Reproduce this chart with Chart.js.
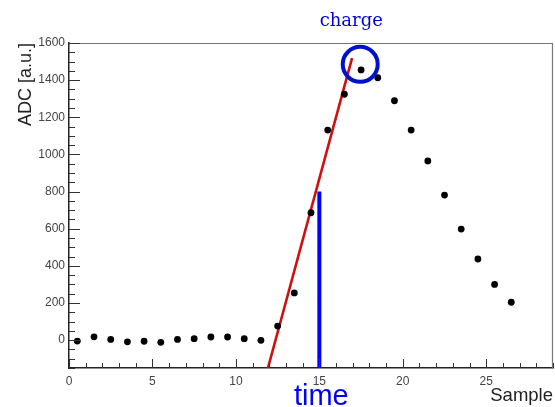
<!DOCTYPE html>
<html>
<head>
<meta charset="utf-8">
<script src="https://cdn.jsdelivr.net/npm/chart.js@4/dist/chart.umd.min.js"></script>
<style>
  html, body { margin: 0; padding: 0; background: #fff; }
  #wrap { width: 555px; height: 407px; position: relative; }
</style>
</head>
<body>
<div id="wrap"><canvas id="c" width="555" height="407"></canvas></div>
<script>
// ADC samples of one pulse (bin centres 0.5, 1.5, ...)
const sampleX = [0.5, 1.5, 2.5, 3.5, 4.5, 5.5, 6.5, 7.5, 8.5, 9.5, 10.5, 11.5, 12.5, 13.5,
                 14.5, 15.5, 16.5, 17.5, 18.5, 19.5, 20.5, 21.5, 22.5, 23.5, 24.5, 25.5, 26.5];
const adcValues = [-5, 18, 4, -9, -6, -12, 4, 8, 17, 17, 8, -1, 76, 254,
                   686, 1131, 1324, 1455, 1413, 1289, 1131, 965, 781, 598, 437, 300, 204];

// linear fit of the rising edge
const fitX = [11.92, 16.96];
const fitY = [-150, 1519];

// time marker and charge marker
const timeX = [15, 15];
const timeY = [-150, 800];
const chargeX = [17.45];
const chargeY = [1485];

// axis ranges and labelled ticks
const xRange = [0, 29];
const yRange = [-150, 1600];
const xTickLabels = [0, 5, 10, 15, 20, 25];
const yTickLabels = [0, 200, 400, 600, 800, 1000, 1200, 1400, 1600];

const toPoints = (xs, ys) => xs.map((x, i) => ({ x: x, y: ys[i] }));

// ROOT-style frame with ticks pointing into the plot, plus the annotations
const framePlugin = {
  id: 'frameTicks',
  afterDraw(chart) {
    const { ctx, chartArea: a, scales } = chart;
    ctx.save();
    ctx.strokeStyle = '#777';
    ctx.lineWidth = 1.2;
    ctx.beginPath();
    ctx.moveTo(a.left, a.top + 0.5);
    ctx.lineTo(a.right - 0.5, a.top + 0.5);
    ctx.lineTo(a.right - 0.5, a.bottom);
    ctx.stroke();

    ctx.strokeStyle = '#333';
    ctx.lineWidth = 1;
    ctx.beginPath();
    scales.y.ticks.forEach(t => {
      const py = Math.round(scales.y.getPixelForValue(t.value)) + 0.5;
      const len = yTickLabels.includes(t.value) ? 11 : 6;
      ctx.moveTo(a.left, py);
      ctx.lineTo(a.left + len, py);
    });
    scales.x.ticks.forEach(t => {
      const px = Math.round(scales.x.getPixelForValue(t.value)) + 0.5;
      const len = xTickLabels.includes(t.value) ? 9 : 5;
      ctx.moveTo(px, a.bottom);
      ctx.lineTo(px, a.bottom - len);
    });
    ctx.stroke();

    // annotation texts
    ctx.fillStyle = '#0000dd';
    ctx.textAlign = 'center';
    ctx.textBaseline = 'alphabetic';
    ctx.font = '18px "DejaVu Serif"';
    ctx.fillText('charge', scales.x.getPixelForValue(chargeX[0]) - 9, 26);
    ctx.fillStyle = '#0000ff';
    ctx.font = '29px "Liberation Sans"';
    ctx.fillText('time', scales.x.getPixelForValue(timeX[0]) + 2, 405);
    ctx.restore();
  }
};

new Chart(document.getElementById('c'), {
  type: 'scatter',
  data: {
    datasets: [
      {
        label: 'fit',
        type: 'line',
        data: toPoints(fitX, fitY),
        borderColor: '#cc1111',
        borderWidth: 2.6,
        pointRadius: 0,
        showLine: true,
        fill: false,
        order: 3
      },
      {
        label: 'time',
        type: 'line',
        data: toPoints(timeX, timeY),
        borderColor: '#0000ff',
        borderWidth: 4,
        borderCapStyle: 'butt',
        pointRadius: 0,
        showLine: true,
        fill: false,
        order: 2
      },
      {
        label: 'ADC',
        data: toPoints(sampleX, adcValues),
        pointRadius: 3.4,
        pointBackgroundColor: '#000',
        pointBorderColor: '#000',
        pointBorderWidth: 0,
        order: 1
      },
      {
        label: 'charge',
        data: toPoints(chargeX, chargeY),
        pointRadius: 17.5,
        pointBackgroundColor: 'rgba(0,0,0,0)',
        pointBorderColor: '#0010cc',
        pointBorderWidth: 4,
        order: 0
      }
    ]
  },
  options: {
    responsive: false,
    animation: false,
    devicePixelRatio: 1,
    layout: { autoPadding: false, padding: { left: 0, right: 2, top: 43, bottom: 0 } },
    plugins: {
      legend: { display: false },
      tooltip: { enabled: false }
    },
    scales: {
      x: {
        type: 'linear',
        min: xRange[0],
        max: xRange[1],
        grid: { display: false, drawTicks: false },
        border: { display: true, color: '#222', width: 1.5 },
        ticks: {
          stepSize: 1,
          autoSkip: false,
          maxRotation: 0,
          padding: 6,
          color: '#444',
          font: { family: '"Liberation Sans"', size: 12 },
          callback: v => xTickLabels.includes(v) ? String(v) : ''
        },
        title: {
          display: true,
          text: 'Sample',
          align: 'end',
          color: '#222',
          padding: { top: 0, bottom: 0 },
          font: { family: '"Liberation Sans"', size: 18.5 }
        },
        afterFit: s => {
          s.height = 39;
          s.paddingLeft = 0;
          s.paddingRight = 0;
        }
      },
      y: {
        type: 'linear',
        min: yRange[0],
        max: yRange[1],
        grid: { display: false, drawTicks: false },
        border: { display: true, color: '#222', width: 1.5 },
        ticks: {
          stepSize: 50,
          autoSkip: false,
          padding: 4,
          color: '#444',
          font: { family: '"Liberation Sans"', size: 12 },
          callback: v => yTickLabels.includes(v) ? String(v) : ''
        },
        title: {
          display: true,
          text: 'ADC [a.u.]',
          align: 'end',
          color: '#222',
          padding: { top: 15, bottom: 0 },
          font: { family: '"Liberation Sans"', size: 18 }
        },
        afterFit: s => {
          s.width = 69;
          s.paddingTop = 0;
          s.paddingBottom = 0;
        }
      }
    }
  },
  plugins: [framePlugin]
});
</script>
</body>
</html>
